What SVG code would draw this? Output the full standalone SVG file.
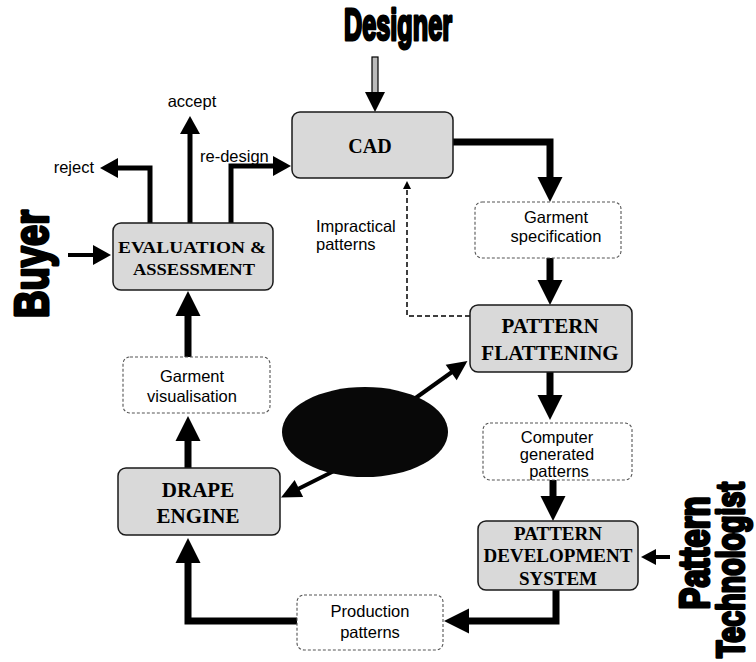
<svg xmlns="http://www.w3.org/2000/svg" width="756" height="662" viewBox="0 0 756 662">
<style>
.gbox{fill:#d9d9d9;stroke:#1a1a1a;stroke-width:1.5}
.wbox{fill:#fff;stroke:#555;stroke-width:1.1;stroke-dasharray:3 2}
.bt{font-family:"Liberation Serif",serif;font-weight:bold;fill:#000;text-anchor:middle}
.st{font-family:"Liberation Sans",sans-serif;font-size:16.5px;fill:#000}
.heavy{font-family:"Liberation Sans",sans-serif;font-weight:bold;fill:#000;stroke:#000;stroke-width:3;stroke-linejoin:round;text-anchor:middle}
.thick{fill:none;stroke:#000;stroke-width:7}
.med{fill:none;stroke:#000;stroke-width:5}
.thin{fill:none;stroke:#000;stroke-width:4}
.dash{fill:none;stroke:#000;stroke-width:1.5;stroke-dasharray:5 3}
</style>
<defs>
<marker id="big" markerUnits="userSpaceOnUse" markerWidth="26" markerHeight="25" refX="1" refY="12.5" orient="auto" overflow="visible"><path d="M0,0 L25,12.5 L0,25 z" fill="#000"/></marker>
<marker id="med" markerUnits="userSpaceOnUse" markerWidth="19" markerHeight="20" refX="1" refY="10" orient="auto" overflow="visible"><path d="M0,0 L18,10 L0,20 z" fill="#000"/></marker>
<marker id="diag" markerUnits="userSpaceOnUse" markerWidth="21" markerHeight="19" refX="1" refY="9.5" orient="auto" overflow="visible"><path d="M0,0 L20,9.5 L0,19 z" fill="#000"/></marker>
<marker id="small" markerUnits="userSpaceOnUse" markerWidth="16" markerHeight="16" refX="1" refY="8" orient="auto" overflow="visible"><path d="M0,0 L15,8 L0,16 z" fill="#000"/></marker>
<marker id="tiny" markerUnits="userSpaceOnUse" markerWidth="9" markerHeight="9" refX="1" refY="4" orient="auto" overflow="visible"><path d="M0,0 L8,4 L0,8 z" fill="#000"/></marker>
</defs>

<g id="labels-actors">
<text class="heavy" x="398" y="40" font-size="44" textLength="108" lengthAdjust="spacingAndGlyphs">Designer</text>
<text class="heavy" transform="translate(48,264) rotate(-90)" font-size="48" textLength="108" lengthAdjust="spacingAndGlyphs">Buyer</text>
<text class="heavy" transform="translate(709,553) rotate(-90)" font-size="42" textLength="113" lengthAdjust="spacingAndGlyphs">Pattern</text>
<text class="heavy" transform="translate(744,570) rotate(-90)" font-size="38" textLength="176" lengthAdjust="spacingAndGlyphs">Technologist</text>
</g>

<g id="connectors">
<rect x="372" y="57" width="6" height="36" fill="#bbb" stroke="#000" stroke-width="1.2"/>
<path d="M365,92 L385,92 L375,112 z" fill="#000"/>
<polyline class="thick" points="453,142 550,142 550,178" marker-end="url(#big)"/>
<line class="thick" x1="550" y1="258" x2="550" y2="281" marker-end="url(#big)"/>
<line class="thick" x1="550" y1="372" x2="550" y2="396" marker-end="url(#big)"/>
<line class="thick" x1="553" y1="480" x2="553" y2="497" marker-end="url(#big)"/>
<polyline class="thick" points="556,590 556,621 468,621" marker-end="url(#big)"/>
<polyline class="thick" points="297,621 188,621 188,562" marker-end="url(#big)"/>
<line class="thick" x1="188" y1="468" x2="188" y2="440" marker-end="url(#big)"/>
<line class="thick" x1="188" y1="357" x2="188" y2="315" marker-end="url(#big)"/>
<polyline class="med" points="150,223 150,168 117,168" marker-end="url(#med)"/>
<line class="med" x1="190" y1="223" x2="190" y2="133" marker-end="url(#med)"/>
<polyline class="med" points="231,223 231,166 274,166" marker-end="url(#med)"/>
<line class="thin" x1="68" y1="255" x2="94" y2="255" marker-end="url(#med)"/>
<line class="thin" x1="670" y1="557" x2="655" y2="557" marker-end="url(#small)"/>
<polyline class="dash" points="470,316 407,316 407,188" marker-end="url(#tiny)"/>
<line class="thin" x1="410" y1="402" x2="452" y2="372" marker-end="url(#diag)"/>
<line class="thin" x1="340" y1="468" x2="298" y2="489" marker-end="url(#diag)"/>
</g>

<g id="cad">
<rect class="gbox" x="292" y="112" width="161" height="66" rx="8"/>
<text class="bt" x="370" y="153" font-size="20">CAD</text>
</g>
<g id="garment-spec">
<rect class="wbox" x="475" y="202" width="146" height="56" rx="7"/>
<text class="st" x="556" y="223" text-anchor="middle">Garment</text>
<text class="st" x="556" y="242" text-anchor="middle">specification</text>
</g>
<g id="pattern-flattening">
<rect class="gbox" x="470" y="305" width="162" height="67" rx="8"/>
<text class="bt" x="550" y="333" font-size="21">PATTERN</text>
<text class="bt" x="550" y="360" font-size="21">FLATTENING</text>
</g>
<g id="computer-patterns">
<rect class="wbox" x="483" y="423" width="149" height="57" rx="7"/>
<text class="st" x="557" y="443" text-anchor="middle" font-size="15.5">Computer</text>
<text class="st" x="557" y="460" text-anchor="middle" font-size="15.5">generated</text>
<text class="st" x="559" y="477" text-anchor="middle" font-size="15.5">patterns</text>
</g>
<g id="pattern-development">
<rect class="gbox" x="478" y="521" width="160" height="69" rx="8"/>
<text class="bt" x="558" y="540" font-size="19">PATTERN</text>
<text class="bt" x="558" y="562" font-size="19">DEVELOPMENT</text>
<text class="bt" x="558" y="585" font-size="19">SYSTEM</text>
</g>
<g id="production-patterns">
<rect class="wbox" x="297" y="595" width="146" height="55" rx="7"/>
<text class="st" x="370" y="617" text-anchor="middle">Production</text>
<text class="st" x="370" y="638" text-anchor="middle">patterns</text>
</g>
<g id="drape-engine">
<rect class="gbox" x="118" y="468" width="162" height="67" rx="8"/>
<text class="bt" x="198" y="497" font-size="21">DRAPE</text>
<text class="bt" x="198" y="523" font-size="21">ENGINE</text>
</g>
<g id="garment-visualisation">
<rect class="wbox" x="123" y="357" width="147" height="56" rx="7"/>
<text class="st" x="192" y="382" text-anchor="middle">Garment</text>
<text class="st" x="192" y="402" text-anchor="middle">visualisation</text>
</g>
<g id="evaluation">
<rect class="gbox" x="113" y="223" width="160" height="67" rx="8"/>
<text class="bt" x="192" y="253" font-size="17" textLength="148" lengthAdjust="spacingAndGlyphs">EVALUATION &amp;</text>
<text class="bt" x="194" y="275" font-size="17" textLength="122" lengthAdjust="spacingAndGlyphs">ASSESSMENT</text>
</g>
<g id="ellipse">
<ellipse cx="365" cy="432" rx="83" ry="45" fill="#080808"/>
</g>
<g id="edge-labels">
<text class="st" x="94" y="173" text-anchor="end">reject</text>
<text class="st" x="192" y="107" text-anchor="middle">accept</text>
<text class="st" x="200" y="162">re-design</text>
<text class="st" x="316" y="232">Impractical</text>
<text class="st" x="316" y="250">patterns</text>
</g>
</svg>
